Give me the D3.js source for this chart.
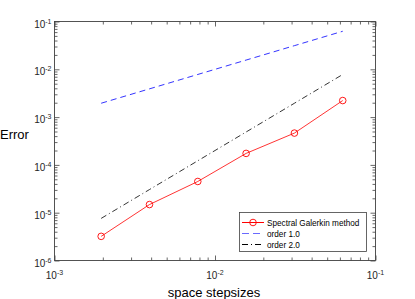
<!DOCTYPE html>
<html><head><meta charset="utf-8">
<script src="https://cdn.jsdelivr.net/npm/d3@7"></script>
<style>
body{margin:0;background:#fff;}
svg{display:block;font-family:"Liberation Sans",Arial,Helvetica,sans-serif;}
</style></head>
<body><svg id="c" width="415" height="299"></svg>
<script>
const stepsizes = [1/512, 1/256, 1/128, 1/64, 1/32, 1/16];
const galerkinErr = [3.2e-6, 1.48e-5, 4.5e-5, 1.74e-4, 4.63e-4, 2.22e-3];
const order1 = [0.00195, 0.0039, 0.0078, 0.0156, 0.03125, 0.0625];
const order2 = [7.6e-6, 3.05e-5, 1.22e-4, 4.88e-4, 1.95e-3, 7.8e-3];
const xTickExp = [-3, -2, -1];
const yTickExp = [-6, -5, -4, -3, -2, -1];
const seriesNames = ["Spectral Galerkin method", "order 1.0", "order 2.0"];

const svg = d3.select("#c");
const L = 54.5, R = 375.5, T = 21.5, B = 260.5;
const x = d3.scaleLog().domain([1e-3, 1e-1]).range([L, R]);
const y = d3.scaleLog().domain([1e-6, 1e-1]).range([B, T]);
const axisCol = "#404040";

svg.append("rect").attr("x", L).attr("y", T).attr("width", R - L).attr("height", B - T)
  .attr("fill", "#fff");

function minorVals(exps) {
  const v = [];
  for (let e = exps[0]; e < exps[exps.length - 1]; e++)
    for (let k = 2; k <= 9; k++) v.push(k * Math.pow(10, e));
  return v;
}
const xMaj = xTickExp.map(e => Math.pow(10, e));
const yMaj = yTickExp.map(e => Math.pow(10, e));
const xMin = minorVals(xTickExp), yMin = minorVals(yTickExp);

function drawAxis(gen, transform, vals, size) {
  const g = svg.append("g").attr("transform", transform)
    .call(gen.tickValues(vals).tickSizeInner(size).tickSizeOuter(0).tickFormat(""));
  g.select(".domain").remove();
  g.selectAll("line").attr("stroke", axisCol).attr("stroke-width", 0.8);
}
drawAxis(d3.axisBottom(x), `translate(0,${B})`, xMaj, -5);
drawAxis(d3.axisBottom(x), `translate(0,${B})`, xMin, -3);
drawAxis(d3.axisTop(x), `translate(0,${T})`, xMaj, -5);
drawAxis(d3.axisTop(x), `translate(0,${T})`, xMin, -3);
drawAxis(d3.axisLeft(y), `translate(${L},0)`, yMaj, -5);
drawAxis(d3.axisLeft(y), `translate(${L},0)`, yMin, -3);
drawAxis(d3.axisRight(y), `translate(${R},0)`, yMaj, -5);
drawAxis(d3.axisRight(y), `translate(${R},0)`, yMin, -3);

svg.append("rect").attr("x", L).attr("y", T).attr("width", R - L).attr("height", B - T)
  .attr("fill", "none").attr("stroke", axisCol).attr("stroke-width", 0.9);

xTickExp.forEach(e => {
  const t = svg.append("text").attr("x", x(Math.pow(10, e))).attr("y", B + 18)
    .attr("text-anchor", "middle").attr("font-size", 10).attr("fill", "#262626");
  t.append("tspan").text("10");
  t.append("tspan").attr("dy", -4).attr("font-size", 7).text(String(e));
});
yTickExp.forEach(e => {
  const t = svg.append("text").attr("x", L - 3).attr("y", y(Math.pow(10, e)) + 6)
    .attr("text-anchor", "end").attr("font-size", 10).attr("fill", "#262626");
  t.append("tspan").text("10");
  t.append("tspan").attr("dy", -4).attr("font-size", 7).text(String(e));
});

svg.append("text").attr("x", (L + R) / 2 - 1).attr("y", 297).attr("text-anchor", "middle")
  .attr("font-size", 13).attr("fill", "#000").text("space stepsizes");
svg.append("text").attr("x", 0).attr("y", 139).attr("text-anchor", "start")
  .attr("font-size", 13).attr("fill", "#000").text("Error");

const line = d3.line().x(d => x(d[0])).y(d => y(d[1]));
const zip = arr => stepsizes.map((s, i) => [s, arr[i]]);
svg.append("path").datum(zip(order1)).attr("d", line).attr("fill", "none")
  .attr("stroke", "#0000ff").attr("stroke-width", 0.8).attr("stroke-dasharray", "6,4");
svg.append("path").datum(zip(order2)).attr("d", line).attr("fill", "none")
  .attr("stroke", "#000").attr("stroke-width", 0.8).attr("stroke-dasharray", "6,3,1,3");
svg.append("path").datum(zip(galerkinErr)).attr("d", line).attr("fill", "none")
  .attr("stroke", "#ff0000").attr("stroke-width", 0.8);
svg.selectAll("circle.m").data(zip(galerkinErr)).enter().append("circle")
  .attr("cx", d => x(d[0])).attr("cy", d => y(d[1])).attr("r", 3.3)
  .attr("fill", "none").attr("stroke", "#ff0000").attr("stroke-width", 0.9);

const lg = svg.append("g");
lg.append("rect").attr("x", 239.5).attr("y", 212.5).attr("width", 127).attr("height", 39)
  .attr("fill", "#fff").attr("stroke", axisCol).attr("stroke-width", 0.8);
const styles = [
  {c: "#ff0000", d: null, m: true},
  {c: "#6a6aff", d: "7,4", m: false},
  {c: "#000", d: "6,3,1,3", m: false}
];
seriesNames.forEach((n, i) => {
  const yy = 222.5 + i * 11;
  const l = lg.append("line").attr("x1", 242).attr("x2", 264).attr("y1", yy).attr("y2", yy)
    .attr("stroke", styles[i].c).attr("stroke-width", 1);
  if (styles[i].d) l.attr("stroke-dasharray", styles[i].d);
  if (styles[i].m) lg.append("circle").attr("cx", 253).attr("cy", yy).attr("r", 3.3)
    .attr("fill", "none").attr("stroke", styles[i].c).attr("stroke-width", 0.9);
  lg.append("text").attr("x", 267).attr("y", yy + 3).attr("font-size", 8.2)
    .attr("fill", "#000").text(n);
});
</script></body></html>
